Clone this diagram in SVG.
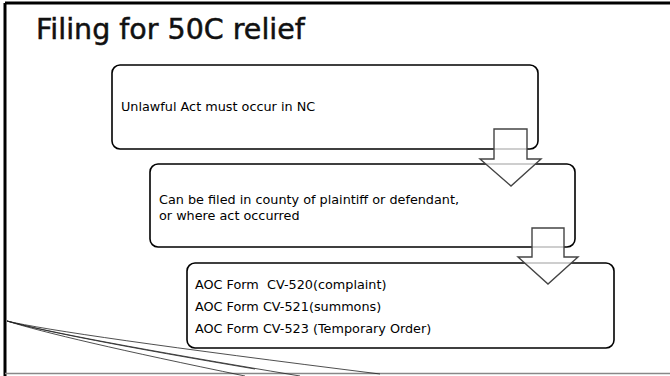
<svg xmlns="http://www.w3.org/2000/svg" width="670" height="376" viewBox="0 0 670 376">
<style>
.box{fill:#fff;stroke:#000;stroke-width:1.6}
.arr{fill:#fff;fill-opacity:0.75;stroke:#444;stroke-width:1.4}
.t{font-family:"DejaVu Sans",Verdana,sans-serif;font-size:12.8px;fill:#000;white-space:pre}
.sw{fill:none;stroke:#222;stroke-width:0.8}
</style>
<rect x="0" y="0" width="670" height="376" fill="#fff"/>
<g id="frame">
<line x1="5" y1="3" x2="670" y2="3" stroke="#000" stroke-width="3"/>
<line x1="5" y1="3" x2="5" y2="376" stroke="#000" stroke-width="3"/>
<line x1="5" y1="373.5" x2="670" y2="373.5" stroke="#888" stroke-width="1.5"/>
</g>
<text x="36" y="39" font-family="DejaVu Sans,Verdana,sans-serif" font-size="28.5" fill="#111" stroke="#111" stroke-width="0.5">Filing for 50C relief</text>
<g id="decor">
<path class="sw" d="M7,321 Q60,334 380,374"/>
<path class="sw" d="M7,321 Q60,336 300,376"/>
<path class="sw" d="M7,321 Q60,336 255,369"/>
<path class="sw" d="M7,321 Q60,338 245,376"/>
</g>
<g id="node1">
<rect class="box" x="112" y="65" width="426" height="84" rx="8"/>
<text class="t" x="121" y="111">Unlawful Act must occur in NC</text>
</g>
<g id="node2">
<rect class="box" x="150" y="164" width="425" height="83" rx="8"/>
<text class="t" x="159" y="204">Can be filed in county of plaintiff or defendant,</text>
<text class="t" x="159" y="220">or where act occurred</text>
</g>
<g id="node3">
<rect class="box" x="187" y="263" width="427" height="85" rx="8"/>
<text class="t" x="195" y="289" xml:space="preserve">AOC Form  CV-520(complaint)</text>
<text class="t" x="195" y="311">AOC Form CV-521(summons)</text>
<text class="t" x="195" y="333">AOC Form CV-523 (Temporary Order)</text>
</g>
<g id="connectors">
<path class="arr" d="M494,129 H527 V159 H541 L511,186 L480,159 H494 Z"/>
<path class="arr" d="M532,228 H564 V257 H578 L548,284 L518,257 H532 Z"/>
</g>
</svg>
